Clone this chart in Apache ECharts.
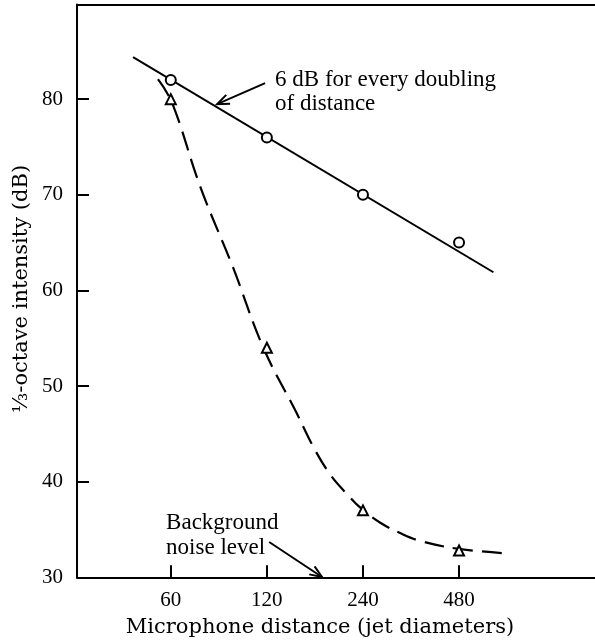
<!DOCTYPE html>
<html>
<head>
<meta charset="utf-8">
<script src="https://cdn.jsdelivr.net/npm/echarts@6/dist/echarts.min.js"></script>
<style>
  html, body { margin: 0; padding: 0; background: #fff; }
  #chart { width: 595px; height: 640px; }
</style>
</head>
<body>
<div id="chart"></div>
<script>
// Microphone distances (jet diameters) where levels were measured
const distances = [60, 120, 240, 480];
// 1/3-octave levels (dB) following the inverse-square law (circles)
const circleLevels = [82, 76, 70, 65];
// 1/3-octave levels (dB) falling toward background noise (triangles)
const triangleLevels = [80, 54, 37, 32.8];
// "6 dB for every doubling" reference line, given by its two end points
const refLineDist = [45.7, 615];
const refLineLevel = [84.4, 61.9];
// Faired dashed curve through the triangle points
const curveDist = [54.7, 60.6, 74.3, 94, 117, 148.6, 168, 189, 214, 237, 272, 315, 363, 473, 674];
const curveLevel = [82.1, 79.6, 70.8, 62.4, 54.0, 47.2, 43.6, 40.8, 38.7, 37.2, 35.7, 34.6, 33.8, 33.0, 32.5];
// Axis ticks
const xTickValues = [60, 120, 240, 480];
const yTickValues = [30, 40, 50, 60, 70, 80];
// Visible axis range
const xRange = [30.5, 1280];
const yRange = [30, 89.9];

const lg = Math.log2;
const pairs = (xs, ys) => xs.map((d, i) => [lg(d), ys[i]]);

const chart = echarts.init(document.getElementById('chart'), null, { renderer: 'canvas' });

const tickFont = { fontFamily: 'Liberation Serif', fontSize: 21, color: '#000' };
const blackLine = { color: '#000', width: 2 };

chart.setOption({
  animation: false,
  backgroundColor: '#fff',
  grid: { left: 77, right: 0, top: 4.5, bottom: 62.7 },
  xAxis: [
    {
      type: 'value', position: 'bottom',
      min: lg(xRange[0]), max: lg(xRange[1]),
      axisLine: { lineStyle: blackLine },
      axisTick: { inside: true, length: 12, customValues: xTickValues.map(lg), lineStyle: blackLine },
      axisLabel: Object.assign({ margin: 13, customValues: xTickValues.map(lg),
        formatter: v => String(Math.round(Math.pow(2, v))) }, tickFont),
      splitLine: { show: false }
    },
    {
      // frame line along the top of the plot
      type: 'value', position: 'top',
      min: lg(xRange[0]), max: lg(xRange[1]),
      axisLine: { show: true, lineStyle: blackLine },
      axisTick: { show: false }, axisLabel: { show: false }, splitLine: { show: false }
    }
  ],
  yAxis: {
    type: 'value',
    min: yRange[0], max: yRange[1], interval: 10,
    axisLine: { show: true, lineStyle: blackLine },
    axisTick: { inside: true, length: 12, customValues: yTickValues, lineStyle: blackLine },
    axisLabel: Object.assign({ margin: 14, customValues: yTickValues }, tickFont),
    splitLine: { show: false }
  },
  series: [
    {
      type: 'line', data: pairs(refLineDist, refLineLevel), symbol: 'none',
      lineStyle: { color: '#000', width: 2 }, z: 2
    },
    {
      type: 'line', data: pairs(curveDist, curveLevel), symbol: 'none',
      smooth: 0.4,
      lineStyle: { color: '#000', width: 2.2, type: [20, 9] }, z: 2
    },
    {
      type: 'scatter', data: pairs(distances, circleLevels), symbol: 'circle', symbolSize: 10,
      itemStyle: { color: '#fff', borderColor: '#000', borderWidth: 2, opacity: 1 }, z: 3
    },
    {
      type: 'scatter', data: pairs(distances, triangleLevels), symbol: 'triangle', symbolSize: 10,
      itemStyle: { color: '#fff', borderColor: '#000', borderWidth: 2, opacity: 1 }, z: 3
    }
  ]
});

// Annotations, anchored in data units
const px = (d, v) => chart.convertToPixel({ gridIndex: 0 }, [lg(d), v]);

function arrow(from, to, head) {
  const dx = to[0] - from[0], dy = to[1] - from[1];
  const a = Math.atan2(dy, dx), spread = 0.38;
  const w1 = [to[0] - head * Math.cos(a - spread), to[1] - head * Math.sin(a - spread)];
  const w2 = [to[0] - head * Math.cos(a + spread), to[1] - head * Math.sin(a + spread)];
  return [
    { type: 'line', shape: { x1: from[0], y1: from[1], x2: to[0], y2: to[1] },
      style: { stroke: '#000', lineWidth: 2 }, z: 10 },
    { type: 'polyline', shape: { points: [w1, to, w2] },
      style: { stroke: '#000', lineWidth: 2, fill: null }, z: 10 }
  ];
}

const annFont = '23px "Liberation Serif"';
const titleFont = '21px "DejaVu Serif"';

const slopeArrow = arrow(px(118.5, 81.67), px(83.8, 79.48), 13);
const noiseArrow = arrow(px(122.0, 33.69), px(178.6, 30.03), 13);
const slopeText = px(127.3, 81.99);
const noiseText = px(58.0, 35.72);

chart.setOption({
  graphic: [].concat(slopeArrow, noiseArrow, [
    { type: 'text', x: slopeText[0], y: slopeText[1] - 12, z: 10,
      style: { text: '6 dB for every doubling\nof distance', font: annFont, lineHeight: 24,
               fill: '#000', align: 'left', verticalAlign: 'top' } },
    { type: 'text', x: noiseText[0], y: noiseText[1] - 12, z: 10,
      style: { text: 'Background\nnoise level', font: annFont, lineHeight: 25,
               fill: '#000', align: 'left', verticalAlign: 'top' } },
    { type: 'text', x: 320, y: 628, z: 10,
      style: { text: 'Microphone distance (jet diameters)', font: titleFont,
               fill: '#000', align: 'center', verticalAlign: 'middle' } },
    { type: 'text', x: 22, y: 289, rotation: Math.PI / 2, z: 10,
      style: { text: '⅓-octave intensity (dB)', font: titleFont,
               fill: '#000', align: 'center', verticalAlign: 'middle' } }
  ])
});
</script>
</body>
</html>
